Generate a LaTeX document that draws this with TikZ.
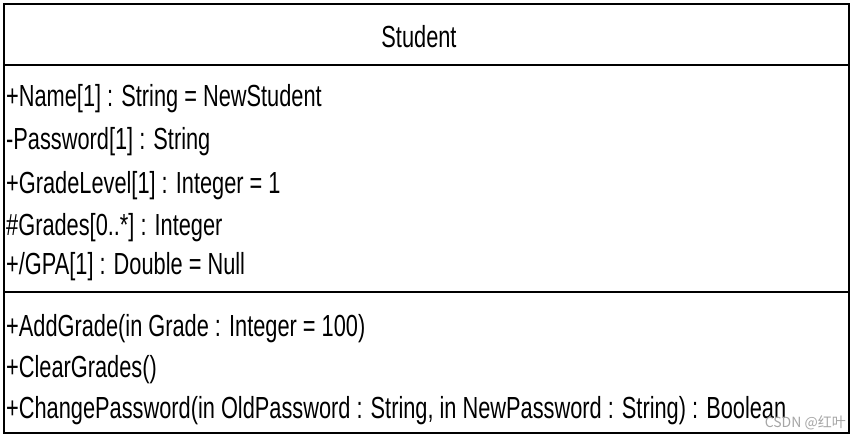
\documentclass[tikz,border=0pt]{standalone}
\usepackage{fontspec}
\setmainfont[FakeStretch=0.714]{Liberation Sans}
\newfontfamily\cjkfont{Noto Sans CJK SC}
\begin{document}
\begin{tikzpicture}[x=1pt,y=1pt,
  umltext/.style={anchor=base west,inner sep=0pt,font=\fontsize{30.5}{30.5}\selectfont},
  titletext/.style={anchor=base,inner sep=0pt,font=\fontsize{30.5}{30.5}\selectfont},
  frame/.style={draw,line width=1.6pt},
  sepline/.style={line width=1.6pt}]
\useasboundingbox (0,0) rectangle (860,-437);
\fill[white] (0,0) rectangle (860,-437);
\node[frame,rectangle,minimum width=845pt,minimum height=429pt,anchor=north west,inner sep=0pt] (box) at (3,-3) {};
\coordinate (s1l) at (3,-65);
\coordinate (s1r) at (848,-65);
\coordinate (s2l) at (3,-292);
\coordinate (s2r) at (848,-292);
\draw[sepline] (s1l) -- (s1r);
\draw[sepline] (s2l) -- (s2r);
\node[titletext] (title) at (419,-47) {Student};
\node[umltext] (a1) at (6,-106) {+Name[1] : String = NewStudent};
\node[umltext] (a2) at (6,-149) {-Password[1] : String};
\node[umltext] (a3) at (6,-193) {+GradeLevel[1] : Integer = 1};
\node[umltext] (a4) at (6,-235) {\#Grades[0..*] : Integer};
\node[umltext] (a5) at (6,-274) {+/GPA[1] : Double = Null};
\node[umltext] (o1) at (6,-336) {+AddGrade(in Grade : Integer = 100)};
\node[umltext] (o2) at (6,-377) {+ClearGrades()};
\node[umltext] (o3) at (6,-418) {+ChangePassword(in OldPassword : String, in NewPassword : String) : Boolean};
\node[anchor=base east,inner sep=0pt,text=black!35,font=\cjkfont\fontsize{14}{14}\selectfont] (wm) at (846,-427) {CSDN @红叶};
\end{tikzpicture}
\end{document}
